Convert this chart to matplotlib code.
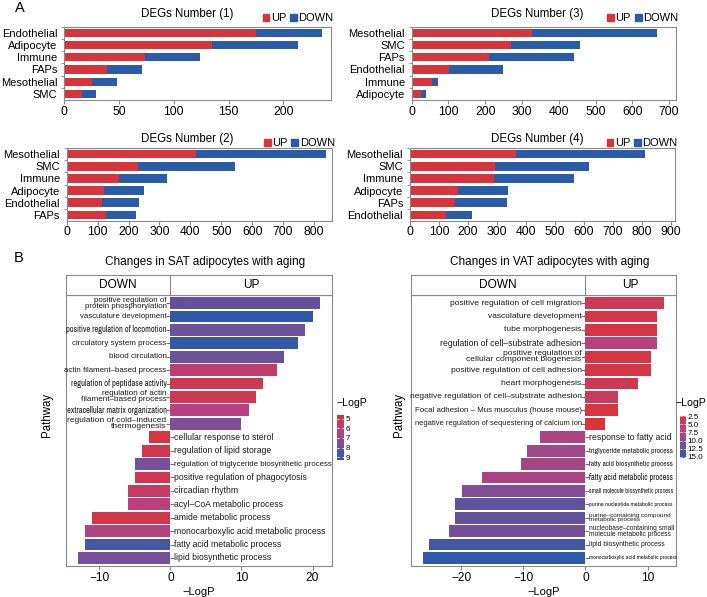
import numpy as np
import matplotlib
matplotlib.use("Agg")
import matplotlib.pyplot as plt
from matplotlib.colors import LinearSegmentedColormap, Normalize
from matplotlib.cm import ScalarMappable
from matplotlib.patches import Patch

plt.rcParams["font.family"] = ["Liberation Sans", "DejaVu Sans"]

RED = "#D6353C"
BLUE = "#2A5BA7"
EDGE = "#8A8A8A"
NARROW = ["Archivo Narrow", "Liberation Sans", "DejaVu Sans"]
REGULAR = ["Liberation Sans", "DejaVu Sans"]

# ---------------- panel A: DEG counts ----------------
deg1_cells = ["Endothelial", "Adipocyte", "Immune", "FAPs", "Mesothelial", "SMC"]
deg1_up = [175, 135, 74, 39, 25, 16]
deg1_down = [60, 78, 50, 32, 23, 13]

deg2_cells = ["Mesothelial", "SMC", "Immune", "Adipocyte", "Endothelial", "FAPs"]
deg2_up = [419, 230, 170, 120, 113, 126]
deg2_down = [419, 314, 155, 131, 121, 99]

deg3_cells = ["Mesothelial", "SMC", "FAPs", "Endothelial", "Immune", "Adipocyte"]
deg3_up = [326, 269, 211, 102, 55, 25]
deg3_down = [340, 189, 231, 147, 16, 13]

deg4_cells = ["Mesothelial", "SMC", "Immune", "Adipocyte", "FAPs", "Endothelial"]
deg4_up = [367, 293, 291, 165, 157, 124]
deg4_down = [446, 325, 276, 172, 178, 89]

# ---------------- panel B: pathway enrichment ----------------
sat_terms = [
    "positive regulation of\nprotein phosphorylation",
    "vasculature development",
    "positive regulation of locomotion",
    "circulatory system process",
    "blood circulation",
    "actin filament\u2013based process",
    "regulation of peptidase activity",
    "regulation of actin\nfilament\u2013based process",
    "extracellular matrix organization",
    "regulation of cold\u2013induced\nthermogenesis",
    "cellular response to sterol",
    "regulation of lipid storage",
    "regulation of triglyceride biosynthetic process",
    "positive regulation of phagocytosis",
    "circadian rhythm",
    "acyl\u2013CoA metabolic process",
    "amide metabolic process",
    "monocarboxylic acid metabolic process",
    "fatty acid metabolic process",
    "lipid biosynthetic process",
]
sat_score = [21, 20, 19, 18, 16, 15, 13, 12, 11, 10,
             -3, -4, -5, -5, -6, -6, -11, -12, -12, -13]
sat_logp = [8.2, 9.3, 8.0, 9.2, 8.0, 5.8, 5.2, 5.2, 6.2, 7.6,
            4.8, 5.0, 7.8, 5.1, 5.6, 6.1, 5.0, 6.3, 8.8, 7.8]

vat_terms = [
    "positive regulation of cell migration",
    "vasculature development",
    "tube morphogenesis",
    "regulation of cell\u2013substrate adhesion",
    "positive regulation of\ncellular component biogenesis",
    "positive regulation of cell adhesion",
    "heart morphogenesis",
    "negative regulation of cell\u2013substrate adhesion",
    "Focal adhesion \u2013 Mus musculus (house mouse)",
    "negative regulation of sequestering of calcium ion",
    "response to fatty acid",
    "triglyceride metabolic process",
    "fatty acid biosynthetic process",
    "fatty acid metabolic process",
    "small molecule biosynthetic process",
    "purine nucleotide metabolic process",
    "purine\u2013containing compound\nmetabolic process",
    "nucleobase\u2013containing small\nmolecule metabolic process",
    "lipid biosynthetic process",
    "monocarboxylic acid metabolic process",
]
vat_score = [12.6, 11.5, 11.5, 11.5, 10.5, 10.5, 8.4, 5.3, 5.3, 3.2,
             -7.3, -9.4, -10.4, -16.7, -19.9, -21.0, -21.0, -21.9, -25.2, -26.2]
vat_logp = [4.2, 3.3, 3.0, 6.5, 3.3, 3.4, 4.0, 4.8, 3.0, 2.5,
            7.5, 8.5, 8.0, 7.6, 10.5, 12.5, 12.3, 11.2, 14.2, 15.2]

# label styling (size in pt, narrow font or not)
sat_label_style = [(5.7, False), (5.6, False), (6.0, True), (5.8, False), (5.8, False),
                   (5.7, False), (6.1, True), (5.9, False), (6.1, True), (6.0, False),
                   (6.25, False), (6.25, False), (5.7, False), (6.25, False), (6.25, False),
                   (6.25, False), (6.25, False), (6.25, False), (6.25, False), (6.25, False)]
vat_label_style = [(6.1, False), (6.05, False), (6.1, False), (6.2, False), (6.1, False),
                   (6.1, False), (6.1, False), (6.05, False), (5.7, False), (5.4, False),
                   (6.2, False), (5.5, True), (5.4, True), (5.9, True), (4.6, True),
                   (4.5, True), (4.6, False), (4.8, False), (4.9, False), (4.4, True)]

cmap = LinearSegmentedColormap.from_list(
    "logp", ["#DA3339", "#B8417F", "#7A4F98", "#2C5AA9"])

W, H = 707, 597
fig = plt.figure(figsize=(W / 100, H / 100), dpi=100)


def box(x0, y0, x1, y1):
    return [x0 / W, 1 - y1 / H, (x1 - x0) / W, (y1 - y0) / H]


def style_spines(ax):
    for s in ax.spines.values():
        s.set_color(EDGE)
        s.set_linewidth(0.8)


def deg_panel(rect, cells, up, down, xmax, xticks, title, title_x, title_y, leg_y):
    ax = fig.add_axes(rect)
    y = np.arange(len(cells))
    ax.barh(y, up, height=0.68, color=RED)
    ax.barh(y, down, left=up, height=0.68, color=BLUE)
    ax.set_xlim(0, xmax)
    ax.set_ylim(len(cells) - 0.5, -0.5)
    ax.set_yticks(y)
    ax.set_yticklabels(cells, fontsize=8)
    ax.set_yticks(np.arange(len(cells)) - 0.5, minor=True)
    ax.tick_params(axis="y", which="major", length=0, pad=5)
    ax.tick_params(axis="y", which="minor", length=2.5, color=EDGE)
    ax.set_xticks(xticks)
    ax.tick_params(axis="x", length=3, color=EDGE, labelsize=8.8, pad=1)
    style_spines(ax)
    ax.text(title_x, title_y, title, transform=ax.transAxes, ha="center",
            va="center", fontsize=8.3)
    ax.legend(handles=[Patch(color=RED, label="UP"), Patch(color=BLUE, label="DOWN")],
              loc="lower right", bbox_to_anchor=(1.01, leg_y), ncol=2, frameon=False,
              fontsize=8, handlelength=0.6, handleheight=0.6, handletextpad=0.15,
              columnspacing=0.35, borderpad=0, borderaxespad=0)
    return ax


deg_panel(box(64.3, 26.7, 331, 100), deg1_cells, deg1_up, deg1_down, 243.5,
          [0, 50, 100, 150, 200], "DEGs Number (1)", 0.46, 1.17, 1.05)
deg_panel(box(66.7, 148.3, 332.3, 220.7), deg2_cells, deg2_up, deg2_down, 859,
          np.arange(0, 801, 100), "DEGs Number (2)", 0.455, 1.125, 1.0)
deg_panel(box(411.7, 26.7, 675.7, 100), deg3_cells, deg3_up, deg3_down, 718,
          np.arange(0, 701, 100), "DEGs Number (3)", 0.4765, 1.17, 1.05)
deg_panel(box(410, 148.3, 675, 220.7), deg4_cells, deg4_up, deg4_down, 915,
          np.arange(0, 901, 100), "DEGs Number (4)", 0.481, 1.125, 1.0)


def pathway_panel(x0, x1, terms, score, logp, styles, xlim, xticks, norm, title,
                  ylab_x, cbar_rect, cbar_ticks, cbar_labels, cbar_label_xy):
    ax = fig.add_axes(box(x0, 295, x1, 566))
    strip = fig.add_axes(box(x0, 275, x1, 295))
    n = len(terms)
    y = np.arange(n)
    score = np.array(score)
    ax.barh(y, score, height=0.88, color=cmap(norm(np.array(logp))), zorder=2)
    ax.set_xlim(*xlim)
    ax.set_ylim(n - 0.4, -0.6)
    ax.set_yticks([])
    ax.set_xticks(xticks)
    ax.tick_params(axis="x", length=3, color=EDGE, labelsize=8.6, pad=1.5)
    style_spines(ax)
    up = score > 0
    ax.plot(np.zeros(up.sum()), y[up], ls="none", marker=0, ms=2.6, mew=0.6,
            color="#555555", zorder=3)
    ax.plot(np.zeros((~up).sum()), y[~up], ls="none", marker=1, ms=2.6, mew=0.6,
            color="#555555", zorder=3)
    for i, (t, s) in enumerate(zip(terms, score)):
        size, narrow = styles[i]
        fam = NARROW if narrow else REGULAR
        if s > 0:
            ax.annotate(t, xy=(0, i), xytext=(-2.8, 0), textcoords="offset points",
                        ha="right", va="center", fontsize=size, family=fam,
                        linespacing=0.8, color="#1a1a1a", zorder=4)
        else:
            ax.annotate(t, xy=(0, i), xytext=(2.4, 0), textcoords="offset points",
                        ha="left", va="center", fontsize=size, family=fam,
                        linespacing=0.8, color="#1a1a1a", zorder=4)
    ax.set_xlabel("\u2212LogP", fontsize=8, labelpad=2)
    ax.set_ylabel("Pathway", fontsize=8.3)
    ax.yaxis.set_label_coords(ylab_x, 0.557)

    strip.set_xlim(*xlim)
    strip.set_ylim(0, 1)
    strip.set_xticks([])
    strip.set_yticks([])
    style_spines(strip)
    strip.axvline(0, color=EDGE, lw=0.8)
    strip.text((xlim[0] + 0) / 2, 0.5, "DOWN", ha="center", va="center", fontsize=8.6)
    strip.text((xlim[1] + 0) / 2, 0.5, "UP", ha="center", va="center", fontsize=8.6)
    strip.text(0.525, 1.63, title, transform=strip.transAxes, ha="center",
               va="center", fontsize=8.5)

    cax = fig.add_axes(box(*cbar_rect))
    cb = fig.colorbar(ScalarMappable(norm=norm, cmap=cmap), cax=cax)
    cb.outline.set_visible(False)
    cb.set_ticks(cbar_ticks)
    cb.set_ticklabels(cbar_labels)
    cax.invert_yaxis()
    cax.tick_params(which="both", left=True, right=True, labelleft=False,
                    labelright=True, direction="in", color="white", length=1.5,
                    width=0.6, labelsize=5.8, pad=1)
    fig.text(cbar_label_xy[0] / W, 1 - cbar_label_xy[1] / H, "\u2212LogP",
             fontsize=7.6, ha="left", va="center")


pathway_panel(66, 331.7, sat_terms, sat_score, sat_logp, sat_label_style,
              (-14.7, 22.7), [-10, 0, 10, 20], Normalize(4.6, 9.3),
              "Changes in SAT adipocytes with aging", -0.049,
              (337, 415, 344, 460), [5, 6, 7, 8, 9], ["5", "6", "7", "8", "9"],
              (336, 403))
pathway_panel(410.7, 676, vat_terms, vat_score, vat_logp, vat_label_style,
              (-28.1, 14.55), [-20, -10, 0, 10], Normalize(2.4, 15.4),
              "Changes in VAT adipocytes with aging", -0.02,
              (680, 416, 686, 458), [2.5, 5, 7.5, 10, 12.5, 15],
              ["2.5", "5.0", "7.5", "10.0", "12.5", "15.0"], (675, 403))

fig.text(15 / W, 1 - 8 / H, "A", fontsize=10.5, va="center", ha="left")
fig.text(14 / W, 1 - 258 / H, "B", fontsize=10.5, va="center", ha="left")

fig.savefig("out.png", dpi=100)
